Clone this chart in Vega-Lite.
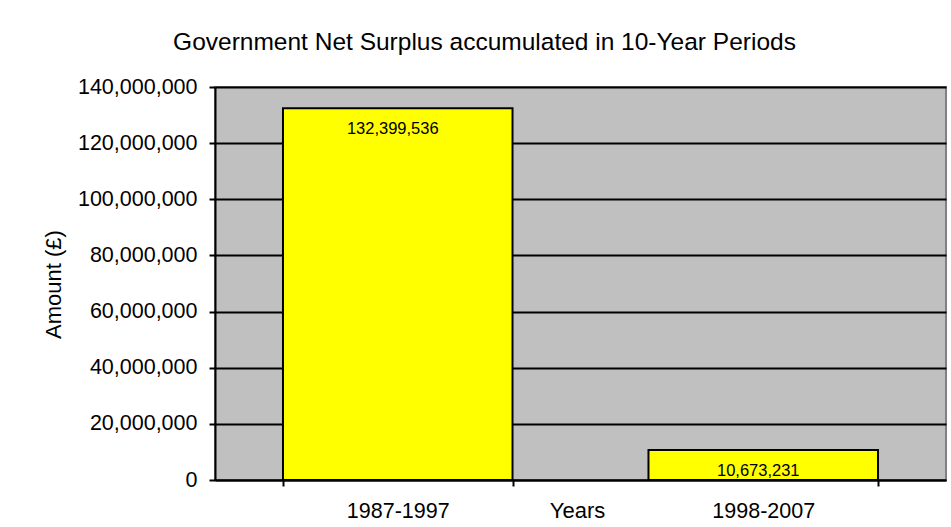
{
  "$schema": "https://vega.github.io/schema/vega-lite/v6.json",
  "width": 731,
  "height": 393,
  "autosize": {"type": "none"},
  "padding": {"left": 215, "top": 87, "right": 5, "bottom": 47},
  "background": "white",
  "title": {
    "text": "Government Net Surplus accumulated in 10-Year Periods",
    "font": "Liberation Sans",
    "fontSize": 24.5,
    "fontWeight": "normal",
    "color": "black",
    "anchor": "middle",
    "frame": "group",
    "baseline": "alphabetic",
    "offset": 2,
    "dx": -96
  },
  "data": {
    "values": [
      {"period": "1987-1997", "amount": 132399536},
      {"period": "1998-2007", "amount": 10673231}
    ]
  },
  "config": {
    "view": {"fill": "#C0C0C0", "stroke": "#808080", "strokeWidth": 2},
    "font": "Liberation Sans"
  },
  "encoding": {
    "x": {
      "field": "period",
      "type": "nominal",
      "sort": null,
      "scale": {"paddingInner": 0.372, "paddingOuter": 0.186},
      "axis": {
        "title": "Years",
        "titleFont": "Liberation Sans",
        "titleFontSize": 22,
        "titleFontWeight": "normal",
        "titleColor": "black",
        "titleBaseline": "alphabetic",
        "titleY": 37,
        "titleX": 362,
        "titleAlign": "center",
        "labelAngle": 0,
        "labelFont": "Liberation Sans",
        "labelFontSize": 21.5,
        "labelColor": "black",
        "labelBaseline": "alphabetic",
        "labelPadding": 31,
        "tickBand": "extent",
        "tickSize": 6,
        "tickColor": "black",
        "tickWidth": 2,
        "domainColor": "black",
        "domainWidth": 2,
        "grid": false
      }
    },
    "y": {
      "field": "amount",
      "type": "quantitative",
      "scale": {"domain": [0, 140000000], "nice": false},
      "axis": {
        "title": "Amount (£)",
        "titleFont": "Liberation Sans",
        "titleFontSize": 22,
        "titleFontWeight": "normal",
        "titleColor": "black",
        "titleAngle": -90,
        "titleBaseline": "alphabetic",
        "titleAlign": "center",
        "titleX": -155,
        "titleY": 197,
        "values": [0, 20000000, 40000000, 60000000, 80000000, 100000000, 120000000, 140000000],
        "format": ",.0f",
        "labelFont": "Liberation Sans",
        "labelFontSize": 21.5,
        "labelColor": "black",
        "labelPadding": 12,
        "tickSize": 6,
        "tickColor": "black",
        "tickWidth": 2,
        "domainColor": "black",
        "domainWidth": 2,
        "grid": true,
        "gridColor": "black",
        "gridWidth": 2
      }
    }
  },
  "layer": [
    {
      "mark": {"type": "bar", "color": "#FFFF00", "stroke": "black", "strokeWidth": 2}
    },
    {
      "mark": {"type": "text", "baseline": "top", "dy": 13, "dx": -5, "fontSize": 16.5, "font": "Liberation Sans", "color": "black"},
      "encoding": {"text": {"field": "amount", "type": "quantitative", "format": ","}}
    }
  ]
}
